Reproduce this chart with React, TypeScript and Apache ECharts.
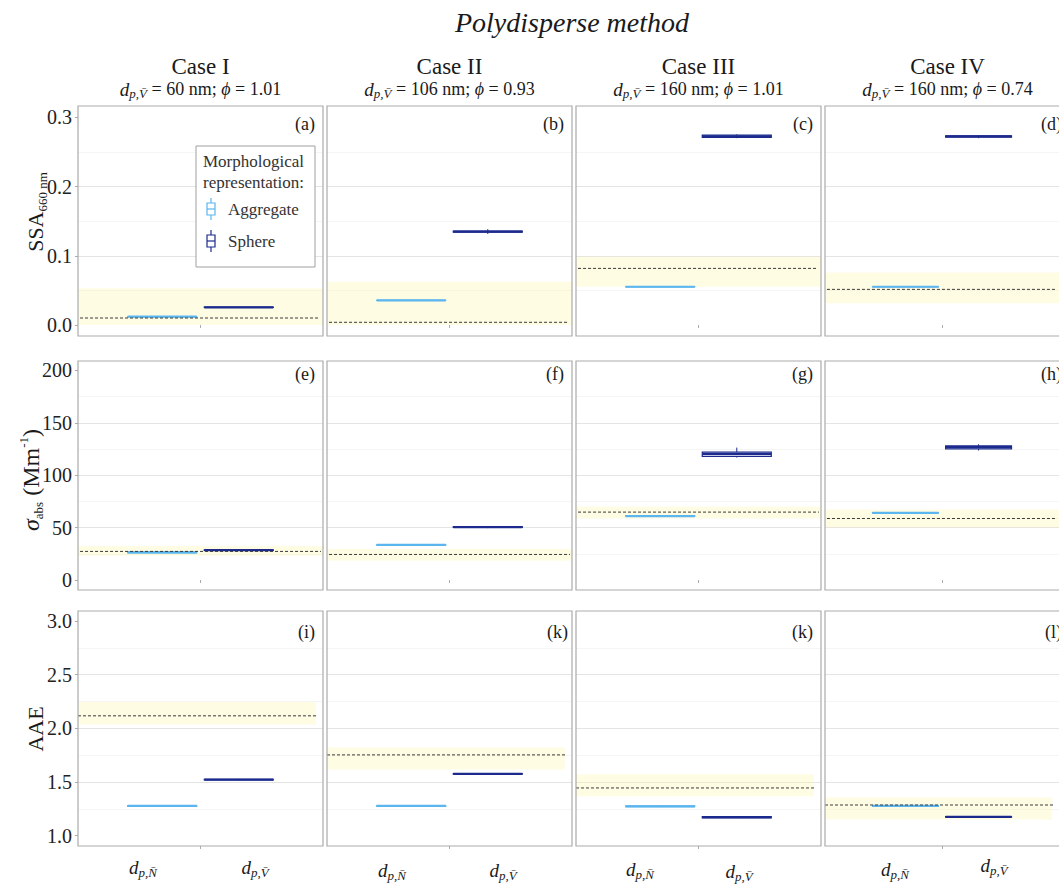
import React, { useEffect, useRef } from "react";
import * as echarts from "echarts";

// ---------------- data ----------------
const caseNames = ["Case I", "Case II", "Case III", "Case IV"];
const caseDiameters = ["60", "106", "160", "160"];
const casePhi = ["1.01", "0.93", "1.01", "0.74"];
const panelTags = [
  ["(a)", "(b)", "(c)", "(d)"],
  ["(e)", "(f)", "(g)", "(h)"],
  ["(i)", "(k)", "(k)", "(l)"],
];
const morphologies = ["Aggregate", "Sphere"];
const xLabelSubscripts = ["p,N\u0304", "p,V\u0304"];

const ssaTicks = [0, 0.1, 0.2, 0.3];
const absTicks = [0, 50, 100, 150, 200];
const aaeTicks = [1.0, 1.5, 2.0, 2.5, 3.0];

// box statistics: [min, q1, median, q3, max]
const ssaAggregate = [
  [0.0115, 0.0118, 0.012, 0.0122, 0.0125],
  [0.0352, 0.0354, 0.0356, 0.0358, 0.036],
  [0.0548, 0.0551, 0.0553, 0.0555, 0.0558],
  [0.0548, 0.0551, 0.0553, 0.0556, 0.0559],
];
const ssaSphere = [
  [0.025, 0.0253, 0.0255, 0.0257, 0.026],
  [0.1315, 0.1343, 0.135, 0.1357, 0.1385],
  [0.27, 0.2712, 0.2727, 0.2745, 0.2755],
  [0.27, 0.2716, 0.2725, 0.2733, 0.2745],
];
const ssaReference = [0.0101, 0.0039, 0.0818, 0.0515];
const ssaRangeLow = [0, 0, 0.0553, 0.0313];
const ssaRangeHigh = [0.053, 0.0625, 0.0986, 0.076];

const absAggregate = [
  [25.6, 26.0, 26.3, 26.7, 27.0],
  [33.0, 33.3, 33.6, 33.9, 34.2],
  [60.2, 60.6, 61.0, 61.4, 61.8],
  [63.5, 63.8, 64.1, 64.4, 64.7],
];
const absSphere = [
  [28.0, 28.3, 28.6, 28.9, 29.3],
  [49.5, 50.1, 50.5, 50.9, 51.5],
  [116.8, 117.8, 120.0, 121.9, 126.3],
  [123.5, 125.0, 126.7, 127.9, 129.5],
];
const absReference = [27.3, 24.4, 64.8, 58.7];
const absRangeLow = [23.2, 18.4, 58.7, 50.2];
const absRangeHigh = [32.4, 29.5, 69.8, 67.3];

const aaeAggregate = [
  [1.27, 1.273, 1.276, 1.279, 1.282],
  [1.27, 1.273, 1.276, 1.279, 1.282],
  [1.267, 1.27, 1.273, 1.276, 1.279],
  [1.27, 1.273, 1.276, 1.279, 1.282],
];
const aaeSphere = [
  [1.516, 1.519, 1.522, 1.525, 1.528],
  [1.569, 1.572, 1.575, 1.578, 1.581],
  [1.163, 1.166, 1.171, 1.176, 1.179],
  [1.166, 1.171, 1.174, 1.177, 1.182],
];
const aaeReference = [2.116, 1.752, 1.444, 1.285];
const aaeRangeLow = [2.035, 1.616, 1.367, 1.149];
const aaeRangeHigh = [2.246, 1.821, 1.572, 1.354];

// ---------------- layout / style ----------------
const SERIF = "'Liberation Serif', 'Times New Roman', serif";
const INK = "#1a1a1a";
const COLORS: Record<string, string> = { Aggregate: "#5BB5EE", Sphere: "#1B2A8C" };
const colLeft = [78, 327, 576, 825];
const panelW = 245;
const rowTop = [106, 361, 611];
const rowH = [230, 229, 235];
const dodge = [0.4125, 0.7875];
const boxHalf = 0.169;
const bandSpan = [[0, 1.2], [0, 1.2], [0, 1.165]];
const dashSpan = [[0.01, 1.18], [0.01, 1.19], [0, 1.17]];
const tagY = [124, 374, 632];
const xLabelOffsets = [[65, 177], [65, 176], [64, 163], [70, 169]];
const xLabelY = [[867, 867], [870, 870], [869, 871], [869, 865]];

const rowsDef = [
  { agg: ssaAggregate, sph: ssaSphere, ref: ssaReference, lo: ssaRangeLow, hi: ssaRangeHigh, ticks: ssaTicks, min: -0.0159, max: 0.3165, dec: 1 },
  { agg: absAggregate, sph: absSphere, ref: absReference, lo: absRangeLow, hi: absRangeHigh, ticks: absTicks, min: -9.5, max: 208.9, dec: 0 },
  { agg: aaeAggregate, sph: aaeSphere, ref: aaeReference, lo: aaeRangeLow, hi: aaeRangeHigh, ticks: aaeTicks, min: 0.903, max: 3.093, dec: 1 },
];

type Seg = { t: string; size: number; italic?: boolean; dy?: number; fill?: string };

function buildOption() {
  const canvas = document.createElement("canvas");
  const ctx = canvas.getContext("2d")!;
  const fontOf = (size: number, italic?: boolean) => `${italic ? "italic " : ""}${size}px ${SERIF}`;
  const measure = (s: Seg) => {
    ctx.font = fontOf(s.size, s.italic);
    return ctx.measureText(s.t).width;
  };
  const txt = (text: string, x: number, y: number, size: number, o: any = {}) => ({
    type: "text",
    x,
    y,
    silent: true,
    z: 20,
    style: {
      text,
      font: fontOf(size, o.italic),
      fill: o.fill || INK,
      textAlign: o.align || "center",
      align: o.align || "center",
      textVerticalAlign: "middle",
      verticalAlign: "middle",
    },
  });
  const runEls = (segs: Seg[], cx: number, cy: number) => {
    const ws = segs.map(measure);
    const total = ws.reduce((a, b) => a + b, 0);
    let x = cx - total / 2;
    return segs.map((s, k) => {
      const el = txt(s.t, x, cy + (s.dy || 0), s.size, { italic: s.italic, align: "left", fill: s.fill });
      x += ws[k];
      return el;
    });
  };

  const grids: any[] = [];
  const xAxes: any[] = [];
  const yAxes: any[] = [];
  const series: any[] = [];
  const graphic: any[] = [];

  rowsDef.forEach((row, r) => {
    const step = row.ticks[1] - row.ticks[0];
    const isNice = (v: number) => row.ticks.some((t) => Math.abs(t - v) < step * 1e-3);
    for (let c = 0; c < 4; c++) {
      const i = r * 4 + c;
      grids.push({ left: colLeft[c], top: rowTop[r], width: panelW, height: rowH[r], show: true, backgroundColor: "#ffffff", borderWidth: 0 });
      xAxes.push({
        type: "value",
        gridIndex: i,
        min: 0,
        max: 1.2,
        interval: 0.6,
        axisLine: { show: false },
        axisLabel: { show: false },
        axisTick: { show: true, length: 3, lineStyle: { color: "#ababab", width: 1 }, customValues: [0.6] },
        splitLine: { show: true, showMinLine: false, showMaxLine: false, lineStyle: { color: "#e4e4e4", width: 1 } },
      });
      yAxes.push({
        type: "value",
        gridIndex: i,
        min: row.min,
        max: row.max,
        splitNumber: row.ticks.length - 1,
        minInterval: step,
        maxInterval: step,
        axisLine: { show: false },
        axisTick: { show: c === 0, length: 3, lineStyle: { color: "#ababab", width: 1 }, customValues: row.ticks },
        axisLabel: {
          show: c === 0,
          customValues: row.ticks,
          formatter: (v: number) => (isNice(v) ? v.toFixed(row.dec) : ""),
          fontFamily: SERIF,
          fontSize: 20,
          color: "#222",
          margin: 6,
        },
        splitLine: { show: true, showMinLine: false, showMaxLine: false, lineStyle: { color: "#e4e4e4", width: 1 } },
        minorTick: { show: false, splitNumber: 2 },
        minorSplitLine: { show: true, lineStyle: { color: "#f2f2f2", width: 0.8 } },
      });

      const bs = bandSpan[r];
      series.push({
        type: "custom",
        name: "reference range",
        xAxisIndex: i,
        yAxisIndex: i,
        z: 1,
        silent: true,
        clip: true,
        encode: { y: [0, 1] },
        data: [[row.lo[c], row.hi[c]]],
        renderItem: (_p: any, api: any) => {
          const a = api.coord([bs[0], api.value(1)]);
          const b = api.coord([bs[1], api.value(0)]);
          return {
            type: "rect",
            shape: { x: a[0], y: a[1], width: b[0] - a[0], height: b[1] - a[1] },
            style: { fill: "rgba(255,245,170,0.32)" },
          };
        },
      });

      [row.agg[c], row.sph[c]].forEach((stats, m) => {
        const color = COLORS[morphologies[m]];
        series.push({
          type: "custom",
          name: morphologies[m],
          xAxisIndex: i,
          yAxisIndex: i,
          z: 3,
          clip: true,
          encode: { x: 0, y: [1, 2, 3, 4, 5] },
          data: [[dodge[m], ...stats]],
          renderItem: (_p: any, api: any) => {
            const x = api.value(0);
            const lo = api.value(1), q1 = api.value(2), md = api.value(3), q3 = api.value(4), hi = api.value(5);
            const pLo = api.coord([x, lo]);
            const pHi = api.coord([x, hi]);
            const pA = api.coord([x - boxHalf, q3]);
            const pB = api.coord([x + boxHalf, q1]);
            const pM1 = api.coord([x - boxHalf, md]);
            const pM2 = api.coord([x + boxHalf, md]);
            return {
              type: "group",
              children: [
                { type: "line", shape: { x1: pLo[0], y1: pLo[1], x2: pLo[0], y2: pB[1] }, style: { stroke: color, lineWidth: 1 } },
                { type: "line", shape: { x1: pHi[0], y1: pHi[1], x2: pHi[0], y2: pA[1] }, style: { stroke: color, lineWidth: 1 } },
                {
                  type: "rect",
                  shape: { x: pA[0], y: pA[1], width: pB[0] - pA[0], height: pB[1] - pA[1] },
                  style: { fill: "#ffffff", stroke: color, lineWidth: 1.2 },
                },
                { type: "line", shape: { x1: pM1[0], y1: pM1[1], x2: pM2[0], y2: pM2[1] }, style: { stroke: color, lineWidth: 2.2 } },
              ],
            };
          },
        });
      });

      const ds = dashSpan[r];
      series.push({
        type: "custom",
        name: "reference",
        xAxisIndex: i,
        yAxisIndex: i,
        z: 5,
        silent: true,
        clip: true,
        encode: { y: 0 },
        data: [[row.ref[c]]],
        renderItem: (_p: any, api: any) => {
          const a = api.coord([ds[0], api.value(0)]);
          const b = api.coord([ds[1], api.value(0)]);
          return {
            type: "line",
            shape: { x1: a[0], y1: a[1], x2: b[0], y2: b[1] },
            style: { stroke: "#3a3a3a", lineWidth: 1, lineDash: [3, 2] },
          };
        },
      });

      // panel frame
      graphic.push({
        type: "rect",
        silent: true,
        z: 10,
        shape: { x: colLeft[c], y: rowTop[r], width: panelW, height: rowH[r] },
        style: { fill: "none", stroke: "#ababab", lineWidth: 1.2 },
      });
      // panel tag
      const tagRight = r === 2 && c === 1 ? 4 : 8;
      graphic.push(txt(panelTags[r][c], colLeft[c] + panelW - tagRight, tagY[r], 18, { align: "right" }));
    }
  });

  // title
  graphic.push(txt("Polydisperse method", 572, 22, 28, { italic: true }));
  // column headers
  for (let c = 0; c < 4; c++) {
    const cx = colLeft[c] + panelW / 2;
    graphic.push(txt(caseNames[c], cx, 66, 23));
    graphic.push(
      ...runEls(
        [
          { t: "d", size: 19, italic: true },
          { t: "p,V\u0304", size: 13, italic: true, dy: 4 },
          { t: ` = ${caseDiameters[c]} nm; `, size: 18 },
          { t: "\u03D5", size: 18, italic: true },
          { t: ` = ${casePhi[c]}`, size: 18 },
        ],
        cx,
        89
      )
    );
    // x labels (bottom row)
    for (let m = 0; m < 2; m++) {
      graphic.push(
        ...runEls(
          [
            { t: "d", size: 19, italic: true },
            { t: xLabelSubscripts[m], size: 13, italic: true, dy: 5 },
          ],
          colLeft[c] + xLabelOffsets[c][m],
          xLabelY[c][m]
        )
      );
    }
  }

  // y-axis names (rotated)
  graphic.push({
    type: "group",
    x: 35,
    y: 212,
    rotation: Math.PI / 2,
    children: runEls(
      [
        { t: "SSA", size: 22 },
        { t: "660 nm", size: 13, dy: 7 },
      ],
      0,
      0
    ),
  });
  graphic.push({
    type: "group",
    x: 31,
    y: 480,
    rotation: Math.PI / 2,
    children: runEls(
      [
        { t: "\u03C3", size: 24, italic: true },
        { t: "abs", size: 13, dy: 7 },
        { t: " (", size: 24 },
        { t: "Mm", size: 24 },
        { t: "-1", size: 13, dy: -8 },
        { t: ")", size: 24 },
      ],
      0,
      0
    ),
  });
  graphic.push({
    type: "group",
    x: 35,
    y: 729,
    rotation: Math.PI / 2,
    children: runEls([{ t: "AAE", size: 22 }], 0, 0),
  });

  // legend
  graphic.push({
    type: "rect",
    z: 15,
    silent: true,
    shape: { x: 196, y: 146, width: 119, height: 121 },
    style: { fill: "#ffffff", stroke: "#a0a0a0", lineWidth: 1 },
  });
  graphic.push(txt("Morphological", 203, 161, 17, { align: "left", fill: "#333" }));
  graphic.push(txt("representation:", 203, 182, 17, { align: "left", fill: "#333" }));
  const legendY = [209, 241];
  morphologies.forEach((name, m) => {
    const color = COLORS[name];
    const cy = legendY[m];
    const ix = 211;
    graphic.push({ type: "line", z: 16, silent: true, shape: { x1: ix, y1: cy - 11, x2: ix, y2: cy + 11 }, style: { stroke: color, lineWidth: 1.2 } });
    graphic.push({ type: "rect", z: 17, silent: true, shape: { x: ix - 4, y: cy - 6, width: 8, height: 12 }, style: { fill: "#ffffff", stroke: color, lineWidth: 1.2 } });
    graphic.push({ type: "line", z: 18, silent: true, shape: { x1: ix - 4, y1: cy, x2: ix + 4, y2: cy }, style: { stroke: color, lineWidth: 1.2 } });
    graphic.push(txt(name, 228, cy, 17, { align: "left", fill: "#333" }));
  });

  return {
    animation: false,
    backgroundColor: "#ffffff",
    grid: grids,
    xAxis: xAxes,
    yAxis: yAxes,
    series,
    graphic,
  };
}

export default function App() {
  const ref = useRef<HTMLDivElement>(null);
  useEffect(() => {
    document.body.style.margin = "0";
    document.body.style.overflow = "hidden";
    const chart = echarts.init(ref.current!, null, { renderer: "svg" });
    chart.setOption(buildOption() as any);
    return () => chart.dispose();
  }, []);
  return <div ref={ref} style={{ width: 1059, height: 885 }} />;
}
